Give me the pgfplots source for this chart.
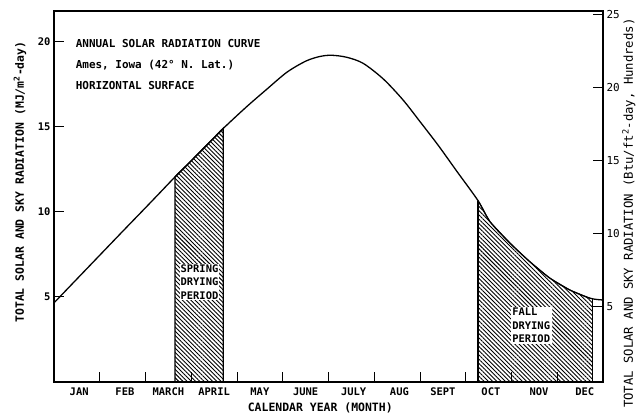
\documentclass[border=0pt]{standalone}
\usepackage{fontspec}
\setmainfont{DejaVu Sans Mono}
\usepackage{pgfplots}
\pgfplotsset{compat=1.18}
\usepackage{pgfplotstable}
\usetikzlibrary{patterns.meta,calc}

\pgfplotstableread{
x y
0 4.65
0.5 6.05
1.0 7.45
1.5 8.85
1.95 10.1
2.3 11.08
2.645 12.05
3.0 13.0
3.35 13.95
3.7 14.9
4.2 16.15
4.65 17.2
5.09 18.2
5.5 18.85
5.8 19.12
6.06 19.2
6.4 19.08
6.76 18.72
7.2 17.8
7.63 16.57
8.0 15.3
8.4 13.9
8.8 12.4
9.27 10.65
9.53 9.42
9.97 8.15
10.4 7.07
10.84 6.1
11.28 5.4
11.72 4.92
12 4.82
}\curvedata

\begin{document}
\begin{tikzpicture}
\begin{axis}[name=ax,
  scale only axis, width=549bp, height=371bp,
  xmin=0, xmax=12, ymin=0, ymax=21.8,
  axis line style={line width=1.1pt},
  tick align=inside, major tick length=10bp,
  tick style={line width=1pt, black},
  xtick={1,...,11}, xticklabels={,,,,,,,,,,,},
  xtick pos=bottom, ytick pos=left,
  ytick={5,10,15,20},
  extra x ticks={0.55,1.55,2.5,3.5,4.5,5.5,6.55,7.55,8.5,9.55,10.6,11.6},
  extra x tick labels={JAN,FEB,MARCH,APRIL,MAY,JUNE,JULY,AUG,SEPT,OCT,NOV,DEC},
  extra x tick style={major tick length=0pt, tick label style={yshift=-2bp}},
  /pgf/number format/assume math mode=true,
  tick label style={font=\bfseries\fontsize{10.5}{12}\selectfont},
  clip=false,
]
\addplot[draw=black, line width=1.4pt, pattern={Lines[angle=-45, distance=3bp, line width=0.9bp]}]
  coordinates {(2.645,0) (2.645,12.05) (3.0,13.0) (3.35,13.95) (3.7,14.9) (3.7,0)} -- cycle;
\addplot[draw=black, line width=0.8pt, pattern={Lines[angle=-45, distance=3bp, line width=0.9bp]}]
  coordinates {(9.27,0) (9.27,10.65) (9.53,9.42) (9.97,8.15) (10.4,7.07) (10.84,6.1) (11.28,5.4) (11.72,4.92) (11.77,4.9) (11.77,0)} -- cycle;
\addplot[draw=black, line width=1.5pt] coordinates {(9.27,0) (9.27,10.65)};
\addplot[draw=black, line width=0.8pt] coordinates {(11.77,4.47) (12,4.47)};
\addplot[black, line width=1.3pt, smooth, no markers] table[x=x,y=y] {\curvedata};

\node[fill=white, inner sep=1pt, align=left, font=\bfseries\fontsize{10.5}{13.5}\selectfont]
  at (axis cs:3.18,5.88) {SPRING\\DRYING\\PERIOD};
\node[fill=white, inner sep=1.5pt, align=left, font=\bfseries\fontsize{10.5}{13.5}\selectfont]
  at (axis cs:10.43,3.32) {FALL\\DRYING\\PERIOD};

\node[anchor=west, font=\bfseries\fontsize{11}{13}\selectfont] at (axis cs:0.40,19.9) {ANNUAL SOLAR RADIATION CURVE};
\node[anchor=west, font=\bfseries\fontsize{11}{13}\selectfont] at (axis cs:0.40,18.6) {Ames, Iowa (42° N. Lat.)};
\node[anchor=west, font=\bfseries\fontsize{11}{13}\selectfont] at (axis cs:0.40,17.45) {HORIZONTAL SURFACE};

\node[font=\bfseries\fontsize{11.5}{13}\selectfont] at (axis description cs:0.485,-0.07) {CALENDAR YEAR (MONTH)};
\node[rotate=90, font=\bfseries\fontsize{11.5}{13}\selectfont] at (axis description cs:-0.062,0.539) {TOTAL SOLAR AND SKY RADIATION (MJ/m\textsuperscript{2}-day)};
\end{axis}
\begin{axis}[
  scale only axis, width=549bp, height=371bp,
  xmin=0, xmax=12, ymin=-0.14, ymax=25.27,
  axis x line=none, axis y line*=right,
  axis line style={line width=1.1pt},
  tick align=inside, major tick length=10bp,
  tick style={line width=1pt, black},
  ytick={5,10,15,20,25},
  /pgf/number format/assume math mode=true,
  tick label style={font=\fontsize{11}{12}\selectfont},
  clip=false,
]
\node[rotate=90, font=\fontsize{12.3}{13}\selectfont] at (axis description cs:1.047,0.455) {TOTAL SOLAR AND SKY RADIATION (Btu/ft\textsuperscript{2}-day, Hundreds)};
\end{axis}
\pgfresetboundingbox
\path[use as bounding box] ($(ax.south west)+(-54bp,-37bp)$) rectangle ($(ax.north east)+(36bp,11bp)$);
\end{tikzpicture}
\end{document}
